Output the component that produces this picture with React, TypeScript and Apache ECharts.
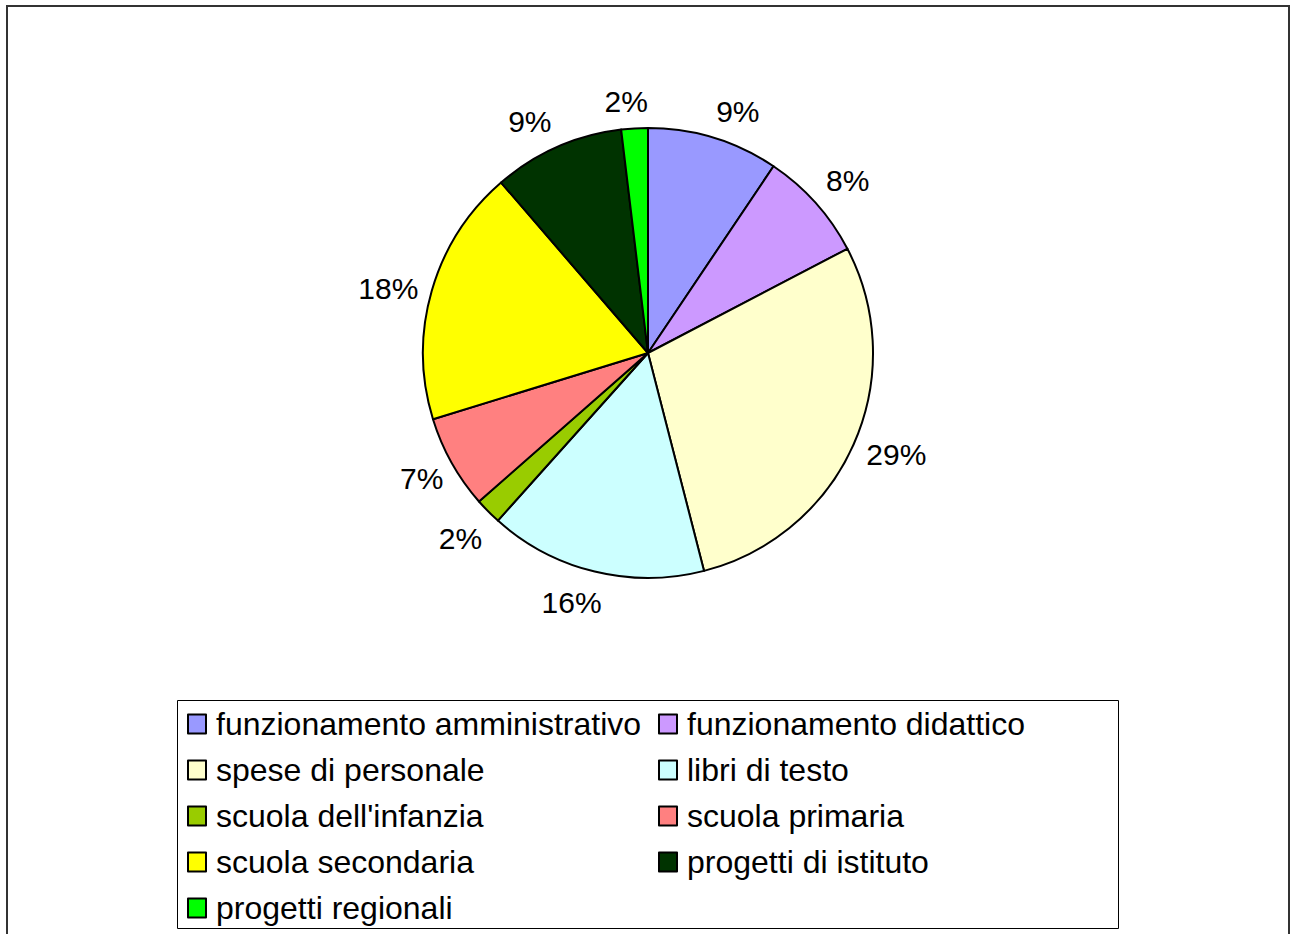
import React, { useEffect, useRef } from "react";
import * as echarts from "echarts";

const categories = [
  "funzionamento amministrativo",
  "funzionamento didattico",
  "spese di personale",
  "libri di testo",
  "scuola dell'infanzia",
  "scuola primaria",
  "scuola secondaria",
  "progetti di istituto",
  "progetti regionali",
];
const values = [9.4, 7.9, 28.6, 15.6, 1.9, 6.7, 18.4, 9.4, 1.9];
const colors = [
  "#9999ff",
  "#cc99ff",
  "#ffffcc",
  "#ccffff",
  "#99cc00",
  "#ff8080",
  "#ffff00",
  "#003300",
  "#00ff00",
];

const FONT = "'Liberation Sans', Arial, Helvetica, sans-serif";
const PIE_CX = 648;
const PIE_CY = 353;
const PIE_R = 225;
const LABEL_ANCHOR_R = 239;

export default function App() {
  const ref = useRef<HTMLDivElement>(null);
  useEffect(() => {
    if (!ref.current) return;
    const chart = echarts.init(ref.current, null, { renderer: "svg" });
    const data = categories.map((name, i) => ({
      name,
      value: values[i],
      itemStyle: { color: colors[i] },
    }));
    const leftNames = categories.filter((_, i) => i % 2 === 0);
    const rightNames = categories.filter((_, i) => i % 2 === 1);
    const legendCommon = {
      orient: "vertical" as const,
      top: 707,
      height: 300,
      padding: 0,
      itemWidth: 18,
      itemHeight: 19,
      itemGap: 12,
      icon: "rect",
      itemStyle: { borderColor: "#000", borderWidth: 2 },
      textStyle: {
        fontFamily: FONT,
        fontSize: 32,
        lineHeight: 34,
        color: "#000",
        padding: [0, 0, 0, 5],
      },
      selectedMode: false,
    };
    chart.setOption({
      animation: false,
      backgroundColor: "#fff",
      graphic: [
        {
          type: "rect",
          shape: { x: 7, y: 6, width: 1282, height: 960 },
          style: { fill: "none", stroke: "#333", lineWidth: 2 },
          silent: true,
        },
        {
          type: "rect",
          shape: { x: 177.5, y: 700.5, width: 941, height: 228 },
          style: { fill: "none", stroke: "#000", lineWidth: 1 },
          silent: true,
        },
      ],
      legend: [
        { ...legendCommon, left: 187, data: leftNames },
        { ...legendCommon, left: 658, data: rightNames },
      ],
      series: [
        {
          type: "pie",
          center: [PIE_CX, PIE_CY],
          radius: PIE_R,
          startAngle: 90,
          clockwise: true,
          silent: true,
          label: { show: false },
          labelLine: { show: false },
          itemStyle: { borderColor: "#000", borderWidth: 2 },
          data,
        },
        {
          type: "pie",
          center: [PIE_CX, PIE_CY],
          radius: [240, 280],
          startAngle: 90,
          clockwise: true,
          silent: true,
          avoidLabelOverlap: false,
          itemStyle: { color: "rgba(0,0,0,0)", borderWidth: 0 },
          label: {
            show: true,
            position: "inside",
            fontFamily: FONT,
            fontSize: 30,
            color: "#000",
            textBorderWidth: 0,
            formatter: (p: any) => Math.round(p.percent) + "%",
          },
          labelLayout: (p: any) => {
            const r = p.labelRect;
            if (!r) return {};
            const cx = r.x + r.width / 2;
            const cy = r.y + r.height / 2;
            const dx = cx - PIE_CX;
            const dy = cy - PIE_CY;
            const len = Math.hypot(dx, dy) || 1;
            const ux = dx / len;
            const uy = dy / len;
            const ax = PIE_CX + ux * LABEL_ANCHOR_R;
            const ay = PIE_CY + uy * LABEL_ANCHOR_R;
            const fx = Math.min(1, 0.2 + 2.5 * Math.abs(ux));
            const fy = Math.max(0, Math.min(1, (Math.abs(uy) - 0.35) / 0.3));
            return {
              x: ax + Math.sign(ux) * fx * (r.width / 2) + (uy > 0.3 && ux < 0 ? 4 : 0),
              y: ay + Math.sign(uy) * fy * (r.height / 2) + 2,
              align: "center",
              verticalAlign: "middle",
            };
          },
          labelLine: { show: false },
          data: categories.map((name, i) => ({ name, value: values[i] })),
        },
      ],
    });
    return () => chart.dispose();
  }, []);
  return (
    <div
      ref={ref}
      style={{ position: "absolute", left: 0, top: 0, width: 1290, height: 934 }}
    />
  );
}
